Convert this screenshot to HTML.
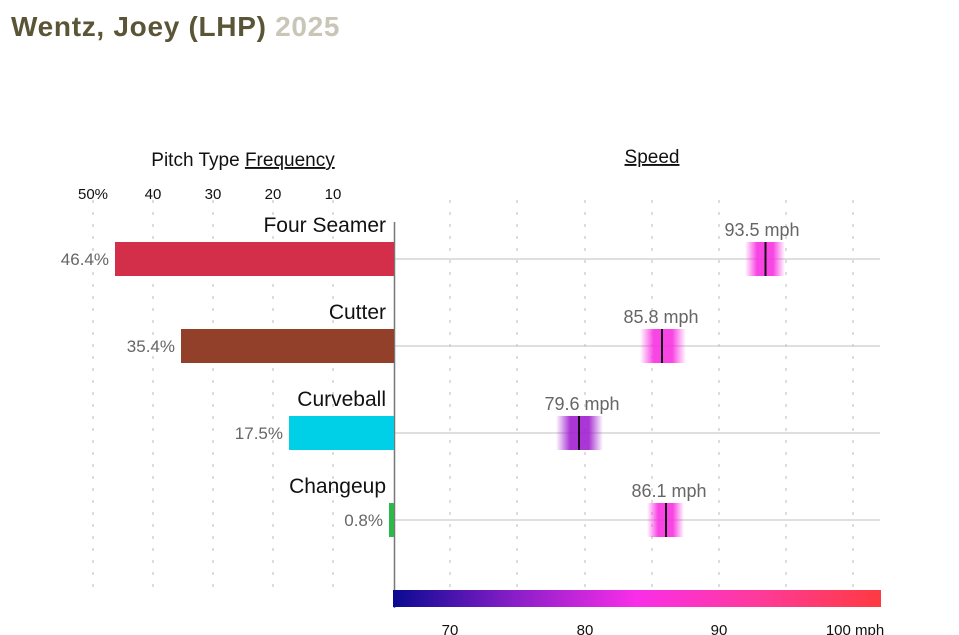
<!DOCTYPE html>
<html><head><meta charset="utf-8"><style>
body{margin:0;background:#fff;width:959px;height:635px;overflow:hidden;position:relative;font-family:"Liberation Sans",sans-serif}
.t{position:absolute;white-space:nowrap}
</style></head><body>
<div class="t" style="left:11px;top:11px;font-size:28px;font-weight:bold;color:#5b5538;letter-spacing:0.7px">Wentz, Joey (LHP) <span style="color:#c9c6b8">2025</span></div>
<svg width="959" height="635" style="position:absolute;left:0;top:0" font-family="Liberation Sans, sans-serif">
<defs>
<linearGradient id="cb" x1="0" x2="1"><stop offset="0" stop-color="#0a0a90"/><stop offset="0.25" stop-color="#8a1ec8"/><stop offset="0.5" stop-color="#fa2ee8"/><stop offset="0.75" stop-color="#fe3a9a"/><stop offset="1" stop-color="#fe3a40"/></linearGradient>
<linearGradient id="mg" x1="0" x2="1"><stop offset="0" stop-color="#f830e0" stop-opacity="0"/><stop offset="0.3" stop-color="#f830e0" stop-opacity="0.9"/><stop offset="0.7" stop-color="#f830e0" stop-opacity="0.9"/><stop offset="1" stop-color="#f830e0" stop-opacity="0"/></linearGradient>
<linearGradient id="pg" x1="0" x2="1"><stop offset="0" stop-color="#a020d0" stop-opacity="0"/><stop offset="0.3" stop-color="#a020d0" stop-opacity="0.9"/><stop offset="0.7" stop-color="#a020d0" stop-opacity="0.9"/><stop offset="1" stop-color="#a020d0" stop-opacity="0"/></linearGradient>
</defs>
<g stroke="#bbb" stroke-width="1" stroke-dasharray="3,9">
<line x1="93" y1="200" x2="93" y2="590"/><line x1="153" y1="200" x2="153" y2="590"/><line x1="213" y1="200" x2="213" y2="590"/><line x1="273" y1="200" x2="273" y2="590"/><line x1="333" y1="200" x2="333" y2="590"/>
<line x1="450" y1="200" x2="450" y2="590"/><line x1="517" y1="200" x2="517" y2="590"/><line x1="585" y1="200" x2="585" y2="590"/><line x1="652" y1="200" x2="652" y2="590"/><line x1="719" y1="200" x2="719" y2="590"/><line x1="786" y1="200" x2="786" y2="590"/><line x1="853" y1="200" x2="853" y2="590"/>
</g>
<g stroke="#ccc" stroke-width="1.2">
<line x1="394" y1="259" x2="880" y2="259"/><line x1="394" y1="346" x2="880" y2="346"/><line x1="394" y1="433" x2="880" y2="433"/><line x1="394" y1="520" x2="880" y2="520"/>
</g>
<line x1="394.5" y1="222" x2="394.5" y2="608" stroke="#777" stroke-width="1.5"/>
<text x="243" y="166" font-size="19" text-anchor="middle" fill="#111">Pitch Type <tspan text-decoration="underline">Frequency</tspan></text>
<text x="652" y="163" font-size="19" text-anchor="middle" fill="#111" text-decoration="underline">Speed</text>
<g font-size="15" fill="#111" text-anchor="middle"><text x="93" y="199">50%</text><text x="153" y="199">40</text><text x="213" y="199">30</text><text x="273" y="199">20</text><text x="333" y="199">10</text></g>
<g font-size="21" fill="#111" text-anchor="end"><text x="386" y="232">Four Seamer</text><text x="386" y="319">Cutter</text><text x="386" y="406">Curveball</text><text x="386" y="493">Changeup</text></g>
<rect x="115" y="242" width="279" height="34" fill="#d42f4a"/>
<rect x="181" y="329" width="213" height="34" fill="#93402b"/>
<rect x="289" y="416" width="105" height="34" fill="#00cfe8"/>
<rect x="389" y="503" width="5" height="34" fill="#2db84a"/>
<g font-size="17" fill="#666" text-anchor="end"><text x="109" y="265">46.4%</text><text x="175" y="352">35.4%</text><text x="283" y="439">17.5%</text><text x="383" y="526">0.8%</text></g>
<g font-size="18" fill="#666" text-anchor="middle"><text x="762" y="236">93.5 mph</text><text x="661" y="323">85.8 mph</text><text x="582" y="410">79.6 mph</text><text x="669" y="497">86.1 mph</text></g>
<rect x="745" y="242" width="40" height="34" fill="url(#mg)"/><line x1="765.5" y1="242" x2="765.5" y2="276" stroke="#111" stroke-width="2"/>
<rect x="640" y="329" width="46" height="34" fill="url(#mg)"/><line x1="662" y1="329" x2="662" y2="363" stroke="#111" stroke-width="2"/>
<rect x="556" y="416" width="47" height="34" fill="url(#pg)"/><line x1="579" y1="416" x2="579" y2="450" stroke="#111" stroke-width="2"/>
<rect x="647" y="503" width="37" height="34" fill="url(#mg)"/><line x1="666" y1="503" x2="666" y2="537" stroke="#111" stroke-width="2"/>
<rect x="393" y="590" width="488" height="17" fill="url(#cb)"/>
<g font-size="15" fill="#111" text-anchor="middle"><text x="450" y="635">70</text><text x="585" y="635">80</text><text x="719" y="635">90</text><text x="855" y="635">100 mph</text></g>
</svg>
</body></html>
